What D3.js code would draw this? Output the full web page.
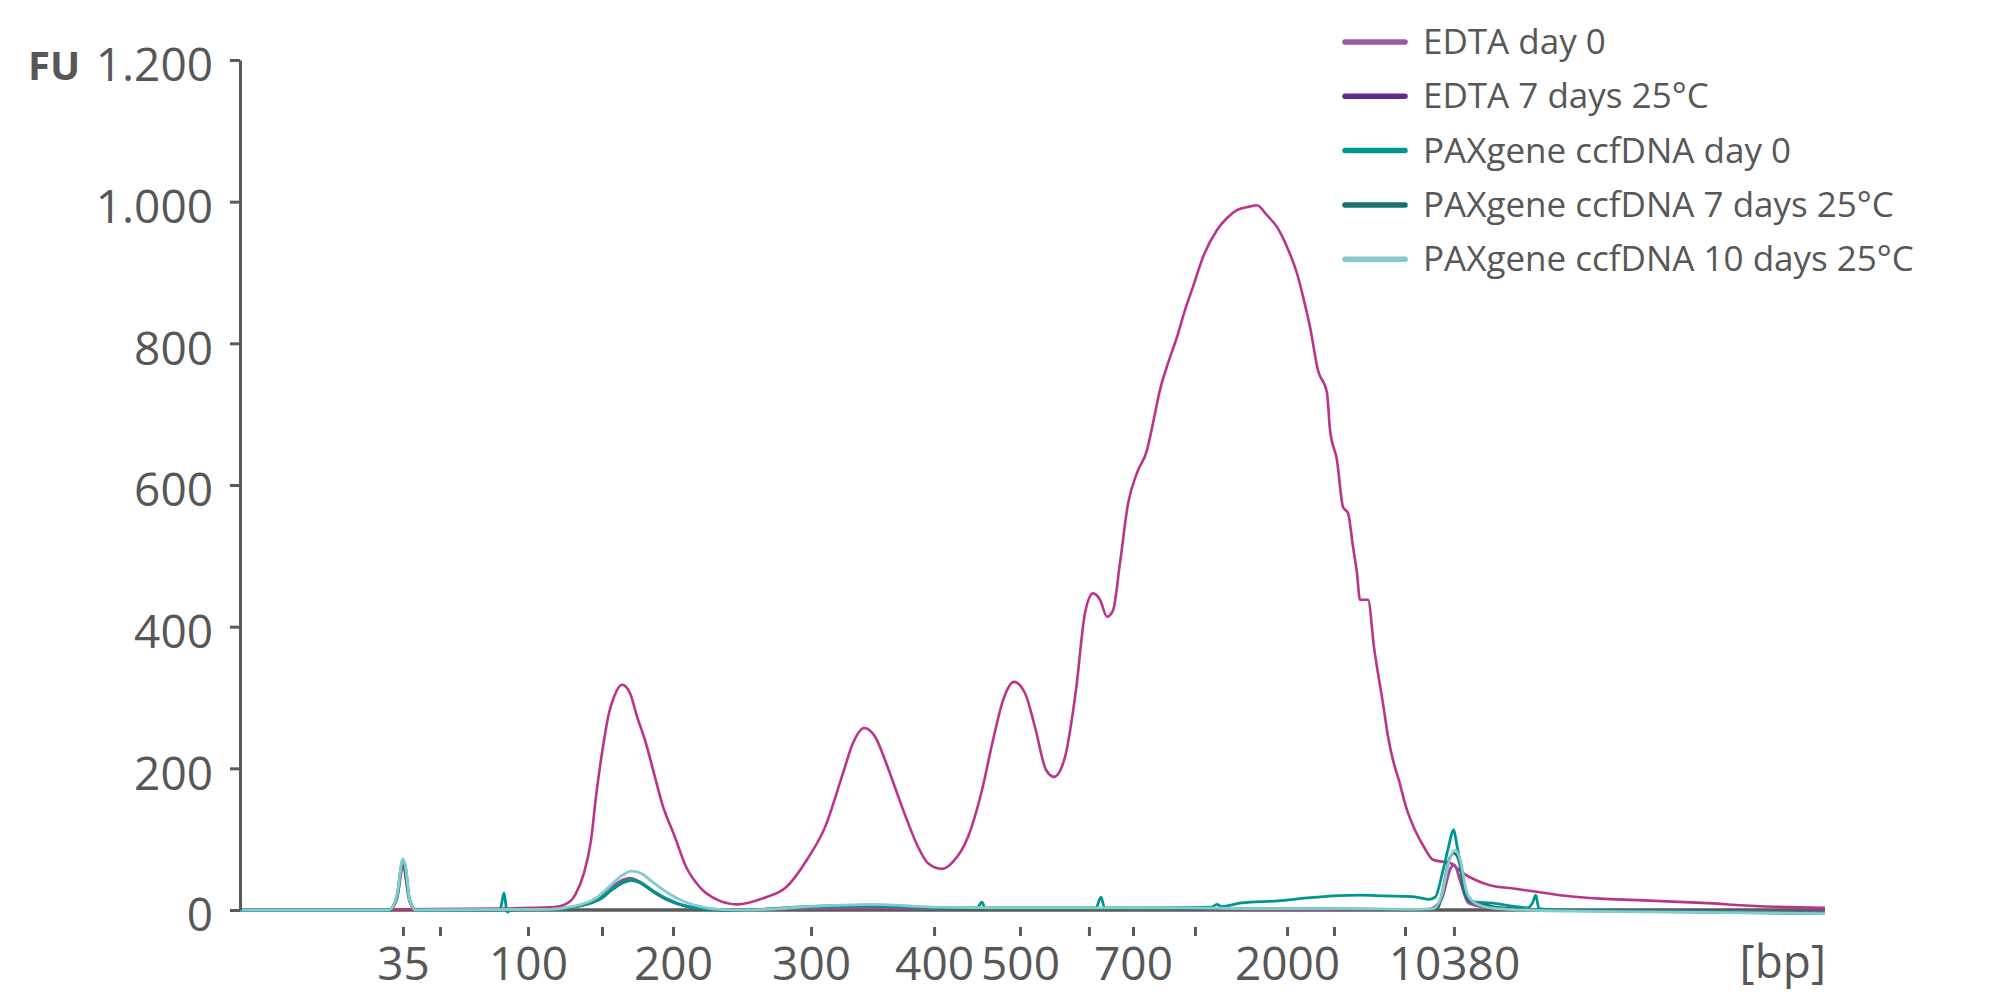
<!DOCTYPE html>
<html>
<head>
<meta charset="utf-8">
<script src="https://cdn.jsdelivr.net/npm/d3@7"></script>
<style>
  body { margin: 0; background: #fff; }
  text { font-family: "Open Sans", "Noto Sans", sans-serif; fill: #575757; }
</style>
</head>
<body>
<div id="chart"></div>
<script>
// Ladder (bp) and where each ladder band sits on the run (% of migration axis)
var ladderSizes = [35, 50, 100, 150, 200, 300, 400, 500, 600, 700, 1000, 2000, 3000, 7000, 10380];
var ladderTimes = [10.28, 12.62, 18.17, 22.84, 27.32, 36.03, 43.79, 49.21, 53.56, 56.34, 60.25, 66.06, 69.02, 73.5, 76.59];
var labelledSizes = [35, 100, 200, 300, 400, 500, 700, 2000, 10380];
var yTicks = [0, 200, 400, 600, 800, 1000, 1200];

var seriesNames = ["EDTA day 0", "EDTA 7 days 25°C", "PAXgene ccfDNA day 0",
                   "PAXgene ccfDNA 7 days 25°C", "PAXgene ccfDNA 10 days 25°C"];

// [migration %, FU]
var edtaDay0 = [[0,0],[9.4,0],[9.9,16],[10.28,62],[10.7,12],[11.1,0],[20,1],[21.5,7],[22.7,17],
  [23.5,33],[24.2,43],[24.6,45],[25.2,40],[26,27],[27,14],[28.2,5],[29.5,1],[31,0],[35,2],
  [40,3],[45,2],[55,2],[65,1],[75,1],[75.8,15],[76.4,60],[76.6,64],[77,40],[77.5,10],
  [79,3],[85,-1],[100,-3]];

var edta7d = [[0,1],[10.09,1],[16.4,2],[19.81,4],[20.44,7],[21.14,21],[21.7,52],[22.15,99],
  [22.46,160],[22.97,240],[23.28,278],[23.6,301],[24.1,318],[24.61,306],[25.05,273],[25.55,240],
  [26.12,193],[26.62,151],[27.44,103],[28.14,61],[29.02,32],[30.16,14],[31.36,8],[33.06,17],
  [34.45,32],[35.77,71],[36.91,117],[38.04,193],[38.68,236],[39.37,257],[40.06,245],[40.76,208],
  [41.39,169],[42.08,127],[42.78,89],[43.41,66],[44.29,58],[44.98,68],[45.93,103],[46.81,169],
  [47.51,240],[48.14,296],[48.83,322],[49.53,306],[50.16,258],[50.85,198],[51.36,188],[52.05,216],
  [52.74,310],[53.31,419],[53.82,447],[54.26,438],[54.7,414],[55.08,423],[55.52,490],[56.03,574],
  [56.59,617],[57.22,649],[57.6,687],[58.04,734],[58.55,772],[59.12,809],[59.62,847],[60.13,880],
  [60.76,922],[61.64,960],[62.27,977],[62.9,988],[63.72,993],[64.16,995],[64.79,981],[65.43,964],
  [66.06,936],[66.75,894],[67.07,866],[67.51,823],[68.01,762],[68.58,730],[68.77,678],[69.21,635],
  [69.59,569],[69.91,560],[70.22,513],[70.47,476],[70.66,438],[71.17,438],[71.55,370],[72.11,292],
  [72.43,245],[72.74,212],[73.12,183],[73.56,146],[74.13,113],[74.7,89],[75.27,71],[75.9,68],
  [76.4,66],[76.72,60],[77.16,52],[77.98,42],[78.86,35],[80.44,30],[82.02,25],[83.6,20],
  [85.8,16],[88.2,14],[92.24,10],[96.28,5],[100,3]];

var paxDay0 = [[0,0],[9.4,0],[9.9,20],[10.28,71],[10.45,60],[10.7,15],[11.1,0],[16.4,0],[16.66,24],
  [16.85,-3],[17.1,0],[20,1],[21.5,6],[22.7,16],[23.5,30],[24.2,40],[24.7,43],[25.2,40],[26,28],
  [27,15],[28.2,5],[29.5,1],[31,0],[33,1],[35,3],[37.5,5],[39.5,6],[41.5,5],[43.5,3],[46.5,3],
  [46.81,11],[47,3],[49,3],[52,3],[54,3],[54.32,18],[54.55,3],[57,3],[61.3,4],[61.64,8],[61.9,5],
  [63.2,10],[65.5,13],[67.3,17],[69,20],[70.7,21],[72.2,20],[74,19],[75,15],[75.4,18],[75.9,56],
  [76.25,89],[76.55,113],[76.8,89],[77.1,52],[77.5,18],[78,11],[78.9,10],[80.4,5],[81.2,3],
  [81.55,10],[81.75,21],[81.95,2],[83,0],[90,-2],[100,-4]];

var pax7d = [[0,0],[9.4,0],[9.9,18],[10.28,68],[10.7,14],[11.1,0],[20,1],[21.5,6],[22.7,15],
  [23.5,29],[24.2,39],[24.7,42],[25.2,39],[26,27],[27,14],[28.2,5],[29.5,1],[31,0],[33,1],[35,4],
  [37.5,6],[39.5,7],[41.5,5],[43.5,3],[47,2],[52,2],[57,2],[62,2],[68,2],[72,1],[75,1],[75.6,4],
  [75.9,30],[76.3,72],[76.6,80],[76.9,70],[77.2,30],[77.6,12],[78.3,9],[79.2,4],[81,1],[85,-1],
  [100,-5]];

var pax10d = [[0,0],[9.4,0],[9.9,20],[10.28,72],[10.45,60],[10.7,14],[11.1,0],[19.5,1],[21,5],
  [22.4,16],[23.3,33],[24,47],[24.7,55],[25.3,52],[26,40],[27,24],[28,12],[29,5],[30.2,1],[32,0],
  [34,2],[36,5],[38,7],[40,8],[42,6],[44,4],[48,3],[52,3],[56,3],[60,3],[64,2],[70,2],[74,1],
  [75.3,2],[75.8,20],[76.3,70],[76.65,85],[77,70],[77.4,25],[77.9,10],[78.9,3],[80,1],[85,-2],
  [100,-5]];

// styles
var legendColors = ["#9c58a8", "#5f2b8e", "#00968f", "#17716f", "#86cbc9"];
var lineColors = ["#a6479c", "#bb3489", "#00968f", "#17716f", "#86cbc9"];
var axisColor = "#5a5a5a";

var width = 2000, height = 1000;
var plotLeft = 240, plotRight = 1825, plotTop = 60, plotBottom = 910;

var svg = d3.select("#chart")
  .append("svg")
  .attr("width", width)
  .attr("height", height);

var x = d3.scaleLinear().domain([0, 100]).range([plotLeft, plotRight]);
var y = d3.scaleLinear().domain([0, 1200]).range([plotBottom, plotTop]);

var locale = d3.formatLocale({decimal: ",", thousands: ".", grouping: [3], currency: ["", ""]});
var fmt = locale.format(",d");

// curves, bottom to top
var line = d3.line()
  .x(function(d) { return x(d[0]); })
  .y(function(d) { return y(d[1]); })
  .curve(d3.curveMonotoneX);

var drawOrder = [
  {data: edta7d, idx: 1},
  {data: edtaDay0, idx: 0},
  {data: pax7d, idx: 3},
  {data: paxDay0, idx: 2},
  {data: pax10d, idx: 4}
];

// x axis baseline
svg.append("line")
  .attr("x1", plotLeft)
  .attr("x2", plotRight)
  .attr("y1", y(0))
  .attr("y2", y(0))
  .style("stroke", axisColor)
  .style("stroke-width", 3.5);

svg.append("g")
  .selectAll("path")
  .data(drawOrder)
  .enter().append("path")
  .attr("d", function(d) { return line(d.data); })
  .style("fill", "none")
  .style("stroke", function(d) { return lineColors[d.idx]; })
  .style("stroke-width", function(d) { return d.idx === 1 ? 2.6 : 2.8; })
  .style("stroke-linejoin", "round");

// y axis
var yAxis = d3.axisLeft(y)
  .tickValues(yTicks)
  .tickFormat(fmt)
  .tickSize(10)
  .tickSizeOuter(0)
  .tickPadding(17);

var gy = svg.append("g")
  .attr("transform", "translate(" + plotLeft + ",0)")
  .call(yAxis);
gy.select(".domain").style("stroke", axisColor).style("stroke-width", 3);
gy.selectAll(".tick line").style("stroke", axisColor).style("stroke-width", 3);
gy.selectAll(".tick text")
  .attr("dy", "0.45em")
  .style("font-size", "46px")
  .style("font-family", "'Open Sans', sans-serif")
  .style("fill", "#575757");

// x axis: ladder ticks hang below the baseline
var labelMap = {};
labelledSizes.forEach(function(s) { labelMap[s] = true; });

var xAxis = d3.axisBottom(x)
  .tickValues(ladderTimes)
  .tickFormat(function(d, i) { return labelMap[ladderSizes[i]] ? ladderSizes[i] : ""; })
  .tickSize(9)
  .tickSizeOuter(0)
  .tickPadding(11);

var gx = svg.append("g")
  .attr("transform", "translate(0," + (plotBottom + 17) + ")")
  .call(xAxis);
gx.select(".domain").remove();
gx.selectAll(".tick line").style("stroke", axisColor).style("stroke-width", 3);
gx.selectAll(".tick text")
  .style("font-size", "46px")
  .style("font-family", "'Open Sans', sans-serif")
  .style("fill", "#575757");

svg.append("text")
  .attr("x", plotRight + 1)
  .attr("y", 978)
  .attr("text-anchor", "end")
  .style("font-size", "46px")
  .text("[bp]");

svg.append("text")
  .attr("x", 28)
  .attr("y", 80)
  .style("font-size", "40px")
  .style("font-weight", "bold")
  .text("FU");

// legend
var legend = svg.append("g")
  .attr("transform", "translate(1343,42)");

var rows = legend.selectAll("g")
  .data(seriesNames)
  .enter().append("g")
  .attr("transform", function(d, i) { return "translate(0," + (i * 54.3) + ")"; });

rows.append("line")
  .attr("x1", 2)
  .attr("x2", 62)
  .style("stroke", function(d, i) { return legendColors[i]; })
  .style("stroke-width", 5.5)
  .style("stroke-linecap", "round");

rows.append("text")
  .attr("x", 80)
  .attr("y", 12)
  .style("font-size", "35px")
  .text(function(d) { return d; });
</script>
</body>
</html>
